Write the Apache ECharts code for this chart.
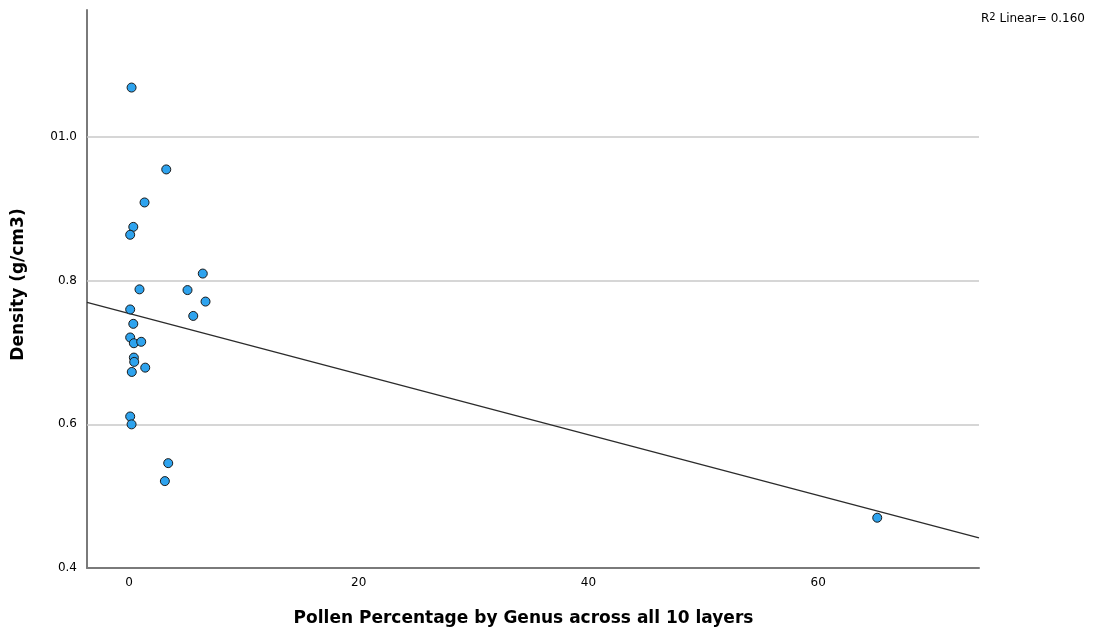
<!DOCTYPE html>
<html>
<head>
<meta charset="utf-8">
<script src="https://cdn.jsdelivr.net/npm/echarts@6/dist/echarts.min.js"></script>
<style>html,body{margin:0;padding:0;background:#fff}#c{width:1094px;height:632px}</style>
</head>
<body>
<div id="c"></div>
<script>
// Data
var pollenPct = [0.22, 3.24, 1.35, 0.37, 0.10, 6.42, 0.91, 5.09, 6.66, 0.10, 5.59, 0.37, 0.10, 0.42, 1.06, 0.42, 0.45, 1.41, 0.24, 0.10, 0.22, 3.41, 3.12, 65.14];
var density   = [1.069, 0.955, 0.909, 0.875, 0.864, 0.810, 0.788, 0.787, 0.771, 0.760, 0.751, 0.740, 0.721, 0.713, 0.715, 0.693, 0.687, 0.679, 0.673, 0.611, 0.600, 0.546, 0.521, 0.470];
var fitX = [-3.66, 74.0];
var fitY = [0.770, 0.442];
var xTickValues = [0, 20, 40, 60];
var yTickValues = [0.4, 0.6, 0.8, 1.0];
var yTickLabels = ['0.4', '0.6', '0.8', '01.0'];
var xRange = [-3.66, 74.0];
var yRange = [0.4, 1.177];
var xTitle = 'Pollen Percentage by Genus across all 10 layers';
var yTitle = 'Density (g/cm3)';
var r2Text = '0.160';

var points = pollenPct.map(function (x, i) { return [x, density[i]]; });
var fitLine = fitX.map(function (x, i) { return [x, fitY[i]]; });
var gridLines = yTickValues.filter(function (v) { return v > yRange[0]; }).map(function (v) { return { yAxis: v }; });

var FONT = '"DejaVu Sans", "Liberation Sans", Arial, sans-serif';
var chart = echarts.init(document.getElementById('c'), null, { renderer: 'canvas' });
chart.setOption({
  backgroundColor: '#ffffff',
  animation: false,
  textStyle: { fontFamily: FONT },
  grid: { left: 87, right: 115, top: 10, bottom: 63, containLabel: false },
  xAxis: {
    type: 'value', min: xRange[0], max: xRange[1],
    name: xTitle, nameLocation: 'middle', nameGap: 42,
    nameTextStyle: { fontSize: 17, fontWeight: 'bold', color: '#000', fontFamily: FONT, padding: [0, 19, 0, 0] },
    axisLine: { show: true, onZero: false, lineStyle: { color: '#7a7a7a', width: 2 } },
    axisTick: { show: false },
    splitLine: { show: false },
    axisLabel: { customValues: xTickValues, color: '#000', fontSize: 12, margin: 9, fontFamily: FONT, formatter: function (v) { return String(v); } }
  },
  yAxis: {
    type: 'value', min: yRange[0], max: yRange[1],
    name: yTitle, nameLocation: 'middle', nameGap: 60, nameRotate: 90,
    nameTextStyle: { fontSize: 17, fontWeight: 'bold', color: '#000', fontFamily: FONT, padding: [0, 0, 0, 9] },
    axisLine: { show: true, onZero: false, lineStyle: { color: '#7a7a7a', width: 2 } },
    axisTick: { show: false },
    splitLine: { show: false },
    axisLabel: {
      customValues: yTickValues, color: '#000', fontSize: 12, margin: 10, fontFamily: FONT,
      formatter: function (v) {
        for (var i = 0; i < yTickValues.length; i++) {
          if (Math.abs(yTickValues[i] - v) < 1e-6) return yTickLabels[i];
        }
        return '';
      }
    }
  },
  series: [
    {
      type: 'line', data: fitLine, symbol: 'none', silent: true, z: 3,
      lineStyle: { color: '#2b2b2b', width: 1.3 },
      markLine: {
        silent: true, symbol: 'none', label: { show: false }, z: 1,
        lineStyle: { color: '#c8c8c8', width: 1.5, type: 'solid' },
        data: gridLines
      }
    },
    {
      type: 'scatter', data: points, symbol: 'circle', symbolSize: 9, z: 4,
      itemStyle: { color: '#2ea3ee', borderColor: '#1a1a1a', borderWidth: 1, opacity: 1 }
    }
  ],
  graphic: [{
    type: 'text', right: 9, top: 12,
    style: {
      text: '{r|R}{s|2}{r| Linear= ' + r2Text + '}',
      rich: {
        r: { fontSize: 12, fill: '#000', fontFamily: FONT, verticalAlign: 'bottom' },
        s: { fontSize: 10, fill: '#000', fontFamily: FONT, verticalAlign: 'top', padding: [0, 0, 3, 0] }
      }
    }
  }]
});
</script>
</body>
</html>
